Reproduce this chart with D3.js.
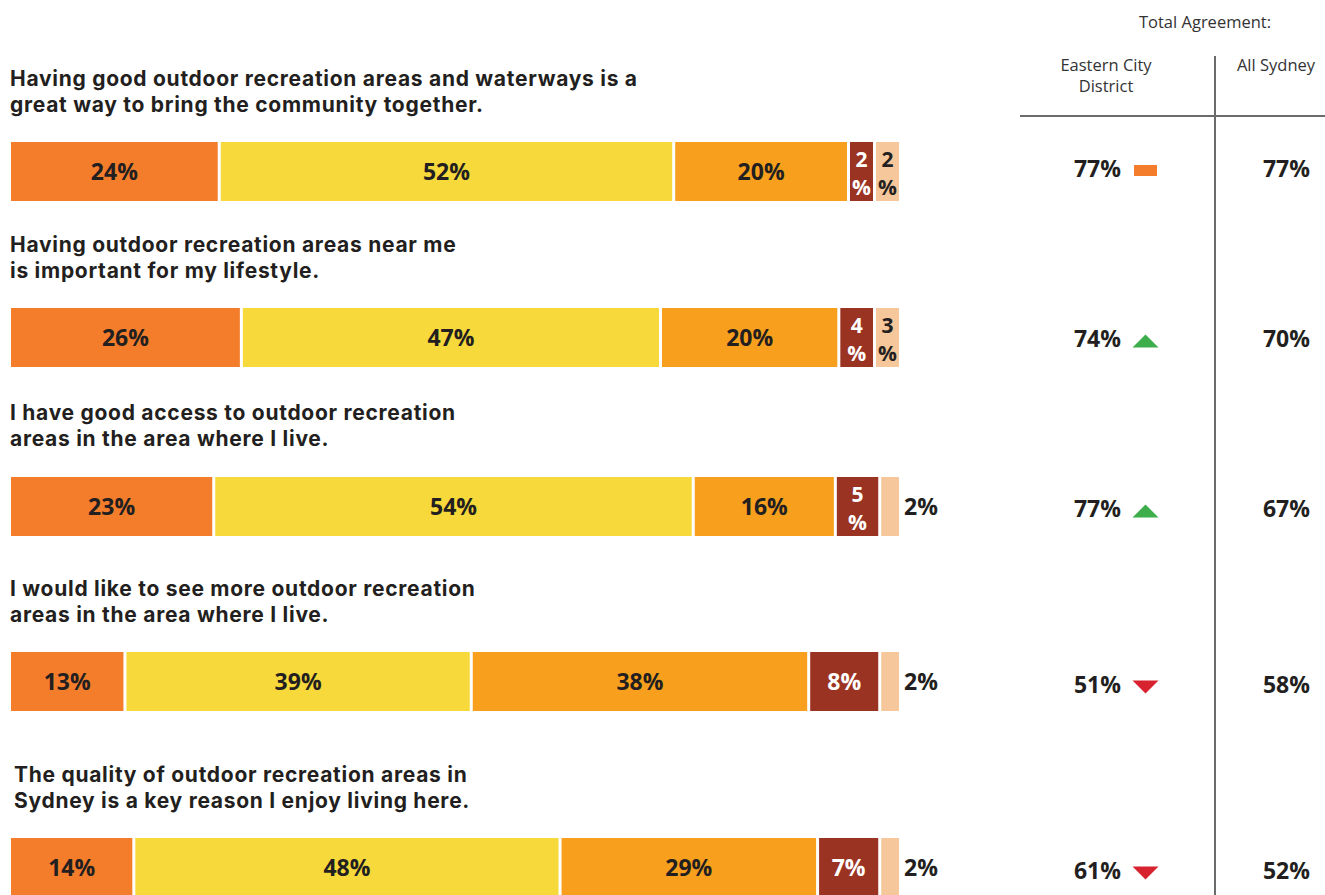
<!DOCTYPE html>
<html><head><meta charset="utf-8">
<script src="https://cdn.jsdelivr.net/npm/d3@7"></script>
<style>body{margin:0;background:#fff;} svg{display:block;}</style>
</head><body>
<svg id="chart" width="1325" height="895"></svg>
<script>
const questions = [
  ["Having good outdoor recreation areas and waterways is a", "great way to bring the community together."],
  ["Having outdoor recreation areas near me", "is important for my lifestyle."],
  ["I have good access to outdoor recreation", "areas in the area where I live."],
  ["I would like to see more outdoor recreation", "areas in the area where I live."],
  ["The quality of outdoor recreation areas in", "Sydney is a key reason I enjoy living here."]
];
const strongAgree = [24, 26, 23, 13, 14];
const agree = [52, 47, 54, 39, 48];
const neutral = [20, 20, 16, 38, 29];
const disagree = [2, 4, 5, 8, 7];
const strongDisagree = [2, 3, 2, 2, 2];
const lastLabelOutside = [false, false, true, true, true];
const easternTotal = [77, 74, 77, 51, 61];
const sydneyTotal = [77, 70, 67, 58, 52];
const trend = ["same", "up", "up", "down", "down"];
const seriesColors = ["#F47D2B", "#F7D93B", "#F8A01D", "#9B3322", "#F5C79A"];
const seriesTextColors = ["#231F20", "#231F20", "#231F20", "#FFFFFF", "#231F20"];
const headerTitle = "Total Agreement:";
const headerCols = [["Eastern City", "District"], ["All Sydney"]];

const svg = d3.select("#chart");
const FONT = "'Open Sans', sans-serif";
const QFONT = "Inter, 'Open Sans', sans-serif";
const textCol = "#231F20";

const barLeft = 11, barRight = 899;
const barTops = [142, 308, 477, 652, 838];
const barH = 59;
const qFirstY = [86, 252, 420, 596, 782];
const qLineH = 26;
const qX = [10, 10, 10, 10, 14];
const gap = 3;
const minStackW = 23;
const valueDy = [-3, 1, 2, 3, 3];

const series = [strongAgree, agree, neutral, disagree, strongDisagree];

questions.forEach((q, i) => {
  const g = svg.append("g");
  g.selectAll("text.q").data(q).join("text").attr("class", "q")
    .attr("x", qX[i]).attr("y", (d, j) => qFirstY[i] + j * qLineH)
    .attr("font-family", QFONT).attr("font-weight", 700).attr("font-size", 21)
    .attr("letter-spacing", 0.72)
    .attr("fill", textCol).text(d => d);

  // segments labelled with a stacked "N / %" get a fixed minimum width; the rest share the bar via a linear scale
  const vals = series.map(s => s[i]);
  const fixed = vals.map((v, k) => v <= 3 && !(k === vals.length - 1 && lastLabelOutside[i]));
  const fixedPx = d3.sum(fixed, f => f ? minStackW + gap : 0) - (fixed[vals.length - 1] ? gap : 0);
  const freeTotal = d3.sum(vals.filter((v, k) => !fixed[k]));
  const x = d3.scaleLinear().domain([0, freeTotal]).range([barLeft, barRight - fixedPx]);

  let cur = barLeft;
  const yTop = barTops[i];
  vals.forEach((v, k) => {
    const full = fixed[k] ? minStackW + gap : x(v) - x(0);
    const isLast = k === vals.length - 1;
    const w = isLast ? barRight - cur : full - gap;
    const x0 = cur;
    cur += full;
    g.append("rect").attr("x", x0).attr("y", yTop).attr("width", w).attr("height", barH)
      .attr("fill", seriesColors[k]);
    const cx = x0 + w / 2, cy = yTop + barH / 2;
    if (isLast && lastLabelOutside[i]) {
      g.append("text").attr("x", x0 + w + 5).attr("y", cy).attr("dy", "0.35em")
        .attr("font-family", FONT).attr("font-weight", 700).attr("font-size", 23)
        .attr("fill", textCol).text(v + "%");
    } else if (v <= 5) {
      [String(v), "%"].forEach((t, j) => {
        g.append("text").attr("x", cx).attr("y", cy + (j === 0 ? -12 : 16)).attr("dy", "0.35em")
          .attr("text-anchor", "middle")
          .attr("font-family", FONT).attr("font-weight", 700).attr("font-size", 21)
          .attr("fill", seriesTextColors[k]).text(t);
      });
    } else {
      g.append("text").attr("x", cx).attr("y", cy).attr("dy", "0.35em")
        .attr("text-anchor", "middle")
        .attr("font-family", FONT).attr("font-weight", 700).attr("font-size", 23)
        .attr("fill", seriesTextColors[k]).text(v + "%");
    }
  });

  const vy = yTop + barH / 2 + valueDy[i];
  g.append("text").attr("x", 1121).attr("y", vy).attr("dy", "0.35em").attr("text-anchor", "end")
    .attr("font-family", FONT).attr("font-weight", 700).attr("font-size", 23)
    .attr("fill", textCol).text(easternTotal[i] + "%");
  g.append("text").attr("x", 1310).attr("y", vy).attr("dy", "0.35em").attr("text-anchor", "end")
    .attr("font-family", FONT).attr("font-weight", 700).attr("font-size", 23)
    .attr("fill", textCol).text(sydneyTotal[i] + "%");

  const mx = 1145.5, my = vy + 2;
  if (trend[i] === "same") {
    g.append("rect").attr("x", mx - 11.5).attr("y", my - 5.5).attr("width", 23).attr("height", 11).attr("fill", "#F47D2B");
  } else if (trend[i] === "up") {
    g.append("path").attr("d", `M${mx - 13},${my + 7} L${mx + 13},${my + 7} L${mx},${my - 6} Z`).attr("fill", "#3DAE4B");
  } else {
    g.append("path").attr("d", `M${mx - 13},${my - 6} L${mx + 13},${my - 6} L${mx},${my + 7} Z`).attr("fill", "#D7232F");
  }
});

// header
svg.append("text").attr("x", 1205).attr("y", 28).attr("text-anchor", "middle")
  .attr("font-family", FONT).attr("font-size", 16.5).attr("fill", "#333").text(headerTitle);
const colX = [1106, 1276];
headerCols.forEach((lines, c) => {
  svg.selectAll(null).data(lines).join("text")
    .attr("x", colX[c]).attr("y", (d, j) => 71 + j * 21).attr("text-anchor", "middle")
    .attr("font-family", FONT).attr("font-size", 16.5).attr("fill", "#333").text(d => d);
});
svg.append("line").attr("x1", 1215).attr("x2", 1215).attr("y1", 56).attr("y2", 895)
  .attr("stroke", "#6b6b6b").attr("stroke-width", 2);
svg.append("line").attr("x1", 1020).attr("x2", 1325).attr("y1", 116).attr("y2", 116)
  .attr("stroke", "#6b6b6b").attr("stroke-width", 2);
</script>
</body></html>
